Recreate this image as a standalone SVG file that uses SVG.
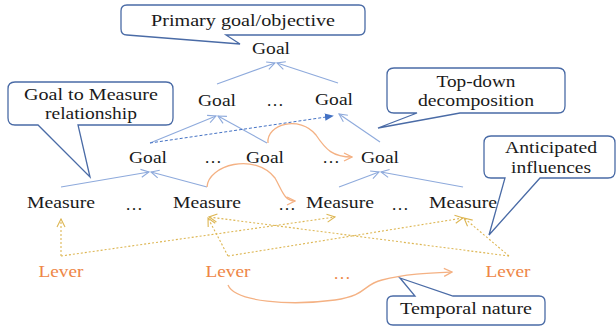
<svg xmlns="http://www.w3.org/2000/svg" width="616" height="327" viewBox="0 0 616 327">
<style>
text{font-family:'Liberation Serif','Times New Roman',serif;font-size:17.5px;fill:#1a1a1a;text-anchor:middle}
.lv{fill:#EE8646}
.co{fill:#fff;stroke:#4A6BA6;stroke-width:1.3;stroke-linejoin:miter}
.b{stroke:#8EAADC;stroke-width:1.1;fill:none;marker-end:url(#ab)}
.bd{stroke:#4472C4;stroke-width:1;stroke-dasharray:3,2;fill:none;marker-end:url(#abf)}
.y{stroke:#DDB653;stroke-width:1.1;stroke-dasharray:2,2;fill:none;marker-end:url(#ay)}
.o{stroke:#F4B183;stroke-width:1.3;fill:none;marker-end:url(#ao)}
</style>
<defs>
<marker id="ab" viewBox="0 0 10 10" refX="9" refY="5" markerWidth="10" markerHeight="10" markerUnits="userSpaceOnUse" orient="auto"><path d="M1,1 L9,5 L1,9" fill="none" stroke="#8EAADC" stroke-width="1.1"/></marker>
<marker id="abf" viewBox="0 0 10 10" refX="9" refY="5" markerWidth="9" markerHeight="9" markerUnits="userSpaceOnUse" orient="auto"><path d="M0,1 L10,5 L0,9 Z" fill="#4472C4"/></marker>
<marker id="ay" viewBox="0 0 10 10" refX="9" refY="5" markerWidth="10" markerHeight="10" markerUnits="userSpaceOnUse" orient="auto"><path d="M1,1 L9,5 L1,9" fill="none" stroke="#DDB653" stroke-width="1.1"/></marker>
<marker id="ao" viewBox="0 0 10 10" refX="9" refY="5" markerWidth="10" markerHeight="10" markerUnits="userSpaceOnUse" orient="auto"><path d="M1,1 L9,5 L1,9" fill="none" stroke="#F4B183" stroke-width="1.3"/></marker>
</defs>

<g id="connectors">
<line class="b" x1="217" y1="84" x2="275" y2="63"/>
<line class="b" x1="338" y1="83" x2="277" y2="63"/>
<line class="b" x1="150" y1="143" x2="216" y2="116"/>
<line class="b" x1="267" y1="143" x2="218" y2="116"/>
<line class="b" x1="380" y1="142" x2="339" y2="114"/>
<line class="b" x1="61" y1="187" x2="149" y2="172"/>
<line class="b" x1="207" y1="187" x2="151" y2="172"/>
<line class="b" x1="339" y1="187" x2="379" y2="172"/>
<line class="b" x1="463" y1="187" x2="381" y2="172"/>
<line class="bd" x1="150" y1="143" x2="333" y2="116"/>
<line class="y" x1="61" y1="256" x2="61" y2="219"/>
<line class="y" x1="61" y1="256" x2="335" y2="217"/>
<line class="y" x1="228" y1="256" x2="208" y2="218"/>
<line class="y" x1="228" y1="256" x2="463" y2="218"/>
<line class="y" x1="509" y1="256" x2="464" y2="218"/>
<line class="y" x1="509" y1="256" x2="209" y2="217"/>
<path class="o" d="M268,143 C266,124 300,115 316,135 C326,150 333,157 352,157"/>
<path class="o" d="M207,187 C208,165 255,152 275,178 C282,190 284,201 295,201"/>
<path class="o" d="M228,285 C235,302 290,306 335,300 C368,295 362,285 382,280 C405,274 430,273 452,272"/>
</g>

<g id="callout-primary">
<path class="co" d="M127,35 L240,44 L226,35 L359,35 Q365,35 365,29 L365,11 Q365,5 359,5 L127,5 Q121,5 121,11 L121,29 Q121,35 127,35 Z"/>
<text x="243" y="26" textLength="184" lengthAdjust="spacingAndGlyphs">Primary goal/objective</text>
</g>
<g id="callout-g2m">
<path class="co" d="M15,82 L166,82 Q173,82 173,89 L173,118 Q173,125 166,125 L78,125 L90,177 L38,125 L15,125 Q8,125 8,118 L8,89 Q8,82 15,82 Z"/>
<text x="91" y="100" textLength="134" lengthAdjust="spacingAndGlyphs">Goal to Measure</text>
<text x="91" y="119" textLength="92" lengthAdjust="spacingAndGlyphs">relationship</text>
</g>
<g id="callout-topdown">
<path class="co" d="M394,68 L558,68 Q565,68 565,75 L565,106 Q565,113 558,113 L460,113 L378,128 L417,113 L394,113 Q387,113 387,106 L387,75 Q387,68 394,68 Z"/>
<text x="476" y="87" textLength="79" lengthAdjust="spacingAndGlyphs">Top-down</text>
<text x="476" y="106" textLength="116" lengthAdjust="spacingAndGlyphs">decomposition</text>
</g>
<g id="callout-anticipated">
<path class="co" d="M491,136 L608,136 Q615,136 615,143 L615,171 Q615,178 608,178 L540,178 L489,235 L505,178 L491,178 Q484,178 484,171 L484,143 Q484,136 491,136 Z"/>
<text x="551" y="153" textLength="92" lengthAdjust="spacingAndGlyphs">Anticipated</text>
<text x="551" y="173" textLength="80" lengthAdjust="spacingAndGlyphs">influences</text>
</g>
<g id="callout-temporal">
<path class="co" d="M393,296 L415,296 L400,278 L453,296 L539,296 Q545,296 545,302 L545,319 Q545,325 539,325 L393,325 Q387,325 387,319 L387,302 Q387,296 393,296 Z"/>
<text x="466" y="314" textLength="132" lengthAdjust="spacingAndGlyphs">Temporal nature</text>
</g>

<g id="goal-top"><text x="271" y="54" textLength="38" lengthAdjust="spacingAndGlyphs">Goal</text></g>
<g id="goal-2a"><text x="217" y="106" textLength="38" lengthAdjust="spacingAndGlyphs">Goal</text></g>
<g id="dots-2"><text x="275" y="106">…</text></g>
<g id="goal-2b"><text x="334" y="105" textLength="38" lengthAdjust="spacingAndGlyphs">Goal</text></g>
<g id="goal-3a"><text x="148" y="163" textLength="38" lengthAdjust="spacingAndGlyphs">Goal</text></g>
<g id="dots-3a"><text x="213" y="163">…</text></g>
<g id="goal-3b"><text x="265" y="163" textLength="38" lengthAdjust="spacingAndGlyphs">Goal</text></g>
<g id="dots-3b"><text x="331" y="163">…</text></g>
<g id="goal-3c"><text x="380" y="163" textLength="38" lengthAdjust="spacingAndGlyphs">Goal</text></g>
<g id="measure-1"><text x="61" y="208" textLength="68" lengthAdjust="spacingAndGlyphs">Measure</text></g>
<g id="dots-m1"><text x="134" y="210">…</text></g>
<g id="measure-2"><text x="207" y="208" textLength="68" lengthAdjust="spacingAndGlyphs">Measure</text></g>
<g id="dots-m2"><text x="287" y="210">…</text></g>
<g id="measure-3"><text x="340" y="208" textLength="68" lengthAdjust="spacingAndGlyphs">Measure</text></g>
<g id="dots-m3"><text x="400" y="210">…</text></g>
<g id="measure-4"><text x="463" y="208" textLength="68" lengthAdjust="spacingAndGlyphs">Measure</text></g>
<g id="lever-1"><text class="lv" x="61" y="277" textLength="45" lengthAdjust="spacingAndGlyphs">Lever</text></g>
<g id="lever-2"><text class="lv" x="228" y="277" textLength="45" lengthAdjust="spacingAndGlyphs">Lever</text></g>
<g id="dots-l"><text class="lv" x="342" y="279">…</text></g>
<g id="lever-3"><text class="lv" x="508" y="277" textLength="45" lengthAdjust="spacingAndGlyphs">Lever</text></g>
</svg>
